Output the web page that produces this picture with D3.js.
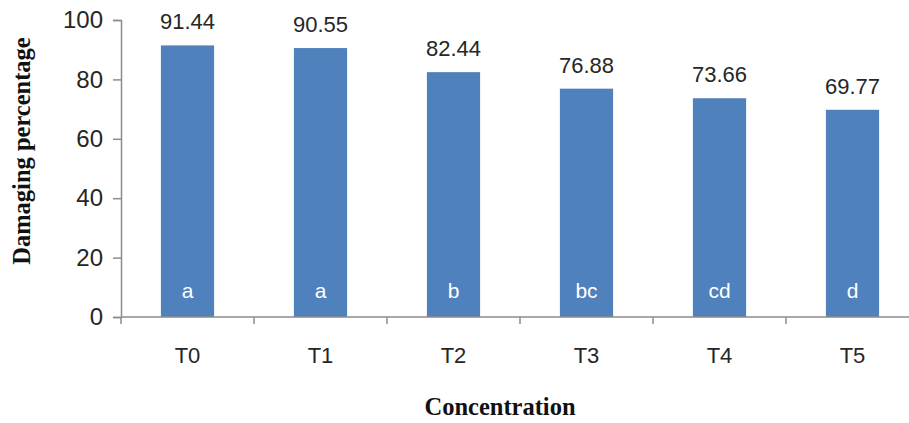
<!DOCTYPE html>
<html>
<head>
<meta charset="utf-8">
<script src="https://cdn.jsdelivr.net/npm/d3@7"></script>
<style>
  html, body { margin: 0; padding: 0; background: #fff; }
  svg { display: block; }
</style>
</head>
<body>
<svg id="chart" width="909" height="423"></svg>
<script>
const categories = ["T0", "T1", "T2", "T3", "T4", "T5"];
const values = [91.44, 90.55, 82.44, 76.88, 73.66, 69.77];
const valueLabels = ["91.44", "90.55", "82.44", "76.88", "73.66", "69.77"];
const groupLetters = ["a", "a", "b", "bc", "cd", "d"];
const yTicks = [0, 20, 40, 60, 80, 100];

(function () {
const svg = d3.select("#chart");
const mLeft = 121, mRight = 919, mTop = 20, mBottom = 317;
const axisColor = "#8c8c8c";
const textColor = "#262626";

const x = d3.scaleBand().domain(categories).range([mLeft, mRight])
  .paddingInner(0.6).paddingOuter(0.3);
const y = d3.scaleLinear().domain([0, 100]).range([mBottom, mTop]);

// Bars
svg.selectAll("rect.bar").data(values).enter().append("rect")
  .attr("class", "bar")
  .attr("x", (d, i) => x(categories[i]))
  .attr("width", x.bandwidth())
  .attr("y", d => y(d))
  .attr("height", d => y(0) - y(d))
  .attr("fill", "#4F81BD");

// Y axis
const yAxis = d3.axisLeft(y).tickValues(yTicks).tickSize(8).tickPadding(10);
const gy = svg.append("g").attr("transform", `translate(${mLeft},0)`).call(yAxis);
gy.select(".domain").attr("stroke", axisColor).attr("stroke-width", 1.5);
gy.selectAll(".tick line").attr("stroke", axisColor).attr("stroke-width", 1.5);
gy.selectAll(".tick text")
  .attr("fill", textColor)
  .style("font-family", "Arial, 'Liberation Sans', sans-serif")
  .style("font-size", "24px");

// X axis line
svg.append("line")
  .attr("x1", mLeft).attr("x2", mRight)
  .attr("y1", y(0)).attr("y2", y(0))
  .attr("stroke", axisColor).attr("stroke-width", 1.5);

// X boundary ticks
const gap = (x.step() - x.bandwidth()) / 2;
const boundaries = categories.map(c => x(c) - gap).concat([x(categories[categories.length - 1]) + x.bandwidth() + gap]);
svg.selectAll("line.xtick").data(boundaries).enter().append("line")
  .attr("class", "xtick")
  .attr("x1", d => d).attr("x2", d => d)
  .attr("y1", y(0)).attr("y2", y(0) + 7)
  .attr("stroke", axisColor).attr("stroke-width", 1.5);

// Category labels
svg.selectAll("text.cat").data(categories).enter().append("text")
  .attr("class", "cat")
  .attr("x", d => x(d) + x.bandwidth() / 2)
  .attr("y", 363)
  .attr("text-anchor", "middle")
  .attr("fill", textColor)
  .style("font-family", "Arial, 'Liberation Sans', sans-serif")
  .style("font-size", "22px")
  .text(d => d);

// Value labels
svg.selectAll("text.val").data(values).enter().append("text")
  .attr("class", "val")
  .attr("x", (d, i) => x(categories[i]) + x.bandwidth() / 2)
  .attr("y", d => y(d) - 16)
  .attr("text-anchor", "middle")
  .attr("fill", textColor)
  .style("font-family", "Arial, 'Liberation Sans', sans-serif")
  .style("font-size", "22px")
  .text((d, i) => valueLabels[i]);

// Group letters inside bars
svg.selectAll("text.grp").data(groupLetters).enter().append("text")
  .attr("class", "grp")
  .attr("x", (d, i) => x(categories[i]) + x.bandwidth() / 2)
  .attr("y", y(0) - 19)
  .attr("text-anchor", "middle")
  .attr("fill", "#ffffff")
  .style("font-family", "Arial, 'Liberation Sans', sans-serif")
  .style("font-size", "21px")
  .text(d => d);

// Axis titles
svg.append("text")
  .attr("x", 500).attr("y", 415)
  .attr("text-anchor", "middle")
  .attr("fill", "#111")
  .style("font-family", "'Times New Roman', 'Liberation Serif', serif")
  .style("font-weight", "bold")
  .style("font-size", "24.5px")
  .text("Concentration");

svg.append("text")
  .attr("transform", "translate(30,151) rotate(-90)")
  .attr("text-anchor", "middle")
  .attr("fill", "#111")
  .style("font-family", "'Times New Roman', 'Liberation Serif', serif")
  .style("font-weight", "bold")
  .style("font-size", "24.5px")
  .text("Damaging percentage");
})();
</script>
</body>
</html>
